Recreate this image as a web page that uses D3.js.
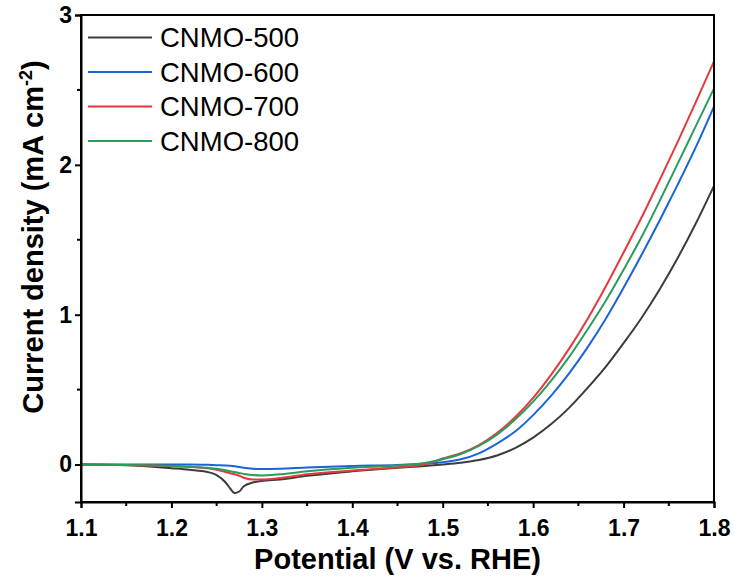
<!DOCTYPE html>
<html>
<head>
<meta charset="utf-8">
<script src="https://cdn.jsdelivr.net/npm/d3@7"></script>
<style>
  body { margin: 0; background: #fff; }
  svg { display: block; font-family: Arial, "Liberation Sans", sans-serif; }
</style>
</head>
<body>
<svg id="chart" width="734" height="583"></svg>
<script>
// potential (V vs. RHE)
const potential = [1.10, 1.15, 1.20, 1.22, 1.24, 1.25, 1.26, 1.265, 1.27, 1.275, 1.28, 1.29, 1.30, 1.32, 1.35, 1.40, 1.45, 1.48,
  1.50, 1.52, 1.54, 1.56, 1.58, 1.60, 1.62, 1.64, 1.66, 1.68, 1.70, 1.72, 1.74, 1.76, 1.78, 1.80];

// current density (mA cm-2)
const cnmo500 = [0, -0.005, -0.025, -0.035, -0.05, -0.07, -0.12, -0.16, -0.19, -0.18, -0.145, -0.12, -0.11, -0.10, -0.075, -0.045, -0.022, -0.01,
  0.0, 0.012, 0.03, 0.06, 0.11, 0.18, 0.27, 0.38, 0.51, 0.65, 0.81, 0.98, 1.17, 1.38, 1.61, 1.86];
const cnmo600 = [0, 0, 0, 0, -0.002, -0.004, -0.006, -0.008, -0.012, -0.017, -0.022, -0.028, -0.03, -0.028, -0.02, -0.01, -0.003, 0.005,
  0.015, 0.035, 0.075, 0.14, 0.22, 0.33, 0.46, 0.61, 0.78, 0.97, 1.18, 1.40, 1.63, 1.87, 2.12, 2.39];
const cnmo700 = [0, -0.003, -0.01, -0.015, -0.025, -0.035, -0.05, -0.058, -0.065, -0.075, -0.088, -0.10, -0.10, -0.09, -0.065, -0.04, -0.018, 0.0,
  0.04, 0.075, 0.13, 0.21, 0.315, 0.445, 0.60, 0.775, 0.97, 1.185, 1.415, 1.65, 1.90, 2.155, 2.42, 2.69];
const cnmo800 = [0, -0.003, -0.01, -0.015, -0.022, -0.028, -0.038, -0.045, -0.05, -0.056, -0.063, -0.07, -0.073, -0.065, -0.045, -0.022, -0.006, 0.01,
  0.035, 0.07, 0.125, 0.20, 0.30, 0.42, 0.56, 0.72, 0.90, 1.09, 1.30, 1.52, 1.76, 2.01, 2.26, 2.51];

const seriesNames = ["CNMO-500", "CNMO-600", "CNMO-700", "CNMO-800"];
const seriesValues = [cnmo500, cnmo600, cnmo700, cnmo800];
const colors = ["#3c3c3c", "#1a63d8", "#e8383d", "#2a9d5c"];

const xTicks = [1.1, 1.2, 1.3, 1.4, 1.5, 1.6, 1.7, 1.8];
const xMinor = [1.15, 1.25, 1.35, 1.45, 1.55, 1.65, 1.75];
const yTicks = [0, 1, 2, 3];
const yMinor = [0.5, 1.5, 2.5];

const svg = d3.select("#chart");
const margin = { top: 15, right: 20, bottom: 81, left: 81 };
const width = 734, height = 583;

const x = d3.scaleLinear().domain([1.1, 1.8]).range([margin.left, width - margin.right]);
const y = d3.scaleLinear().domain([-0.25, 3]).range([height - margin.bottom, margin.top]);

// curves
const line = d3.line()
  .x(d => x(d[0]))
  .y(d => y(d[1]))
  .curve(d3.curveMonotoneX);

seriesValues.forEach((vals, i) => {
  svg.append("path")
    .datum(potential.map((p, k) => [p, vals[k]]))
    .attr("fill", "none")
    .attr("stroke", colors[i])
    .attr("stroke-width", 2)
    .attr("d", line);
});

// frame
svg.append("rect")
  .attr("x", x(1.1))
  .attr("y", y(3))
  .attr("width", x(1.8) - x(1.1))
  .attr("height", y(-0.25) - y(3))
  .attr("fill", "none")
  .attr("stroke", "#000")
  .attr("stroke-width", 2);

// axes
const xAxis = svg.append("g")
  .attr("transform", `translate(0,${y(-0.25)})`)
  .call(d3.axisBottom(x).tickValues(xTicks).tickFormat(d3.format(".1f")).tickSize(6).tickPadding(12));
xAxis.append("g").selectAll("line")
  .data(xMinor).join("line")
  .attr("x1", d => x(d)).attr("x2", d => x(d))
  .attr("y1", 0).attr("y2", 4)
  .attr("stroke", "#000").attr("stroke-width", 2);

const yAxis = svg.append("g")
  .attr("transform", `translate(${x(1.1)},0)`)
  .call(d3.axisLeft(y).tickValues(yTicks).tickFormat(d3.format("d")).tickSize(6).tickPadding(3));
yAxis.append("g").selectAll("line")
  .data(yMinor).join("line")
  .attr("y1", d => y(d)).attr("y2", d => y(d))
  .attr("x1", 0).attr("x2", -4)
  .attr("stroke", "#000").attr("stroke-width", 2);

[xAxis, yAxis].forEach(g => {
  g.select(".domain").attr("stroke-width", 2);
  g.selectAll(".tick line").attr("stroke-width", 2);
  g.selectAll(".tick text")
    .attr("font-size", 23)
    .attr("font-weight", "bold")
    .attr("font-family", "Arial, 'Liberation Sans', sans-serif")
    .attr("fill", "#000");
});

// axis titles
svg.append("text")
  .attr("x", (x(1.1) + x(1.8)) / 2)
  .attr("y", 569)
  .attr("text-anchor", "middle")
  .attr("font-size", 29)
  .attr("font-weight", "bold")
  .text("Potential (V vs. RHE)");

const yTitle = svg.append("text")
  .attr("transform", "translate(43,237) rotate(-90)")
  .attr("text-anchor", "middle")
  .attr("font-size", 29)
  .attr("font-weight", "bold");
yTitle.append("tspan").text("Current density (mA cm");
yTitle.append("tspan").attr("font-size", 18).attr("dy", -11).text("-2");
yTitle.append("tspan").attr("dy", 11).text(")");

// legend
const legend = svg.append("g");
seriesNames.forEach((name, i) => {
  const ly = 37.5 + i * 34.5;
  legend.append("line")
    .attr("x1", 88).attr("x2", 152)
    .attr("y1", ly).attr("y2", ly)
    .attr("stroke", colors[i]).attr("stroke-width", 2);
  legend.append("text")
    .attr("x", 160).attr("y", ly + 9.5)
    .attr("font-size", 27.5)
    .text(name);
});
</script>
</body>
</html>
